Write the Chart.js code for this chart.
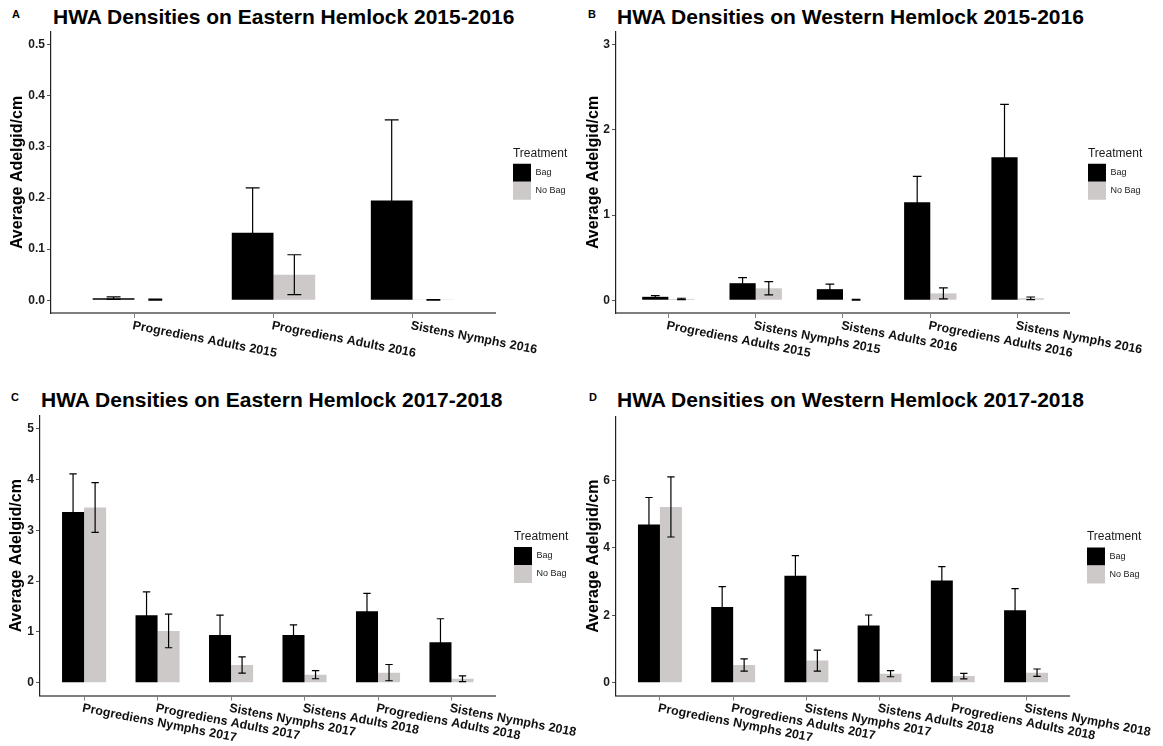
<!DOCTYPE html>
<html><head><meta charset="utf-8">
<script src="https://cdn.jsdelivr.net/npm/chart.js@4.4.1/dist/chart.umd.min.js"></script>
<style>
html,body{margin:0;padding:0;background:#fff;width:1163px;height:746px;overflow:hidden;font-family:"Liberation Sans",Arial,sans-serif;}
canvas{position:absolute;}
.ttl{position:absolute;font-weight:bold;font-size:21px;line-height:1;white-space:nowrap;color:#000;}
.lt{position:absolute;font-weight:bold;font-size:11px;line-height:1;color:#000;}
</style></head><body>
<div class="lt" style="left:12px;top:9px">A</div>
<div class="ttl" style="left:53px;top:6px">HWA Densities on Eastern Hemlock 2015-2016</div>
<div class="lt" style="left:588px;top:8.5px">B</div>
<div class="ttl" style="left:617px;top:6px">HWA Densities on Western Hemlock 2015-2016</div>
<div class="lt" style="left:11px;top:392px">C</div>
<div class="ttl" style="left:41px;top:389px">HWA Densities on Eastern Hemlock 2017-2018</div>
<div class="lt" style="left:589px;top:392px">D</div>
<div class="ttl" style="left:617px;top:389px">HWA Densities on Western Hemlock 2017-2018</div>
<canvas id="cA" width="580" height="373" style="left:0;top:0"></canvas>
<canvas id="cB" width="583" height="373" style="left:580px;top:0"></canvas>
<canvas id="cC" width="580" height="373" style="left:0;top:373px"></canvas>
<canvas id="cD" width="583" height="373" style="left:580px;top:373px"></canvas>
<script>
// ---------- DATA ----------
const seriesNames = ['Bag', 'No Bag'];
const yAxisTitle = 'Average Adelgid/cm';

// Panel A: Eastern Hemlock 2015-2016
const catsA = ['Progrediens Adults 2015', 'Progrediens Adults 2016', 'Sistens Nymphs 2016'];
const bagA = [0.004, 0.132, 0.195];
const bagSeA = [0.0025, 0.088, 0.158];
const noBagA = [0.001, 0.050, 0.0005];
const noBagSeA = [0.001, 0.039, 0.0005];

// Panel B: Western Hemlock 2015-2016
const catsB = ['Progrediens Adults 2015', 'Sistens Nymphs 2015', 'Sistens Adults 2016', 'Progrediens Adults 2016', 'Sistens Nymphs 2016'];
const bagB = [0.04, 0.20, 0.13, 1.15, 1.68];
const bagSeB = [0.015, 0.066, 0.058, 0.305, 0.62];
const noBagB = [0.015, 0.14, 0.005, 0.08, 0.023];
const noBagSeB = [0.008, 0.078, 0.005, 0.064, 0.015];

// Panel C: Eastern Hemlock 2017-2018
const catsC = ['Progrediens Nymphs 2017', 'Progrediens Adults 2017', 'Sistens Nymphs 2017', 'Sistens Adults 2018', 'Progrediens Adults 2018', 'Sistens Nymphs 2018'];
const bagC = [3.36, 1.33, 0.94, 0.94, 1.41, 0.80];
const bagSeC = [0.75, 0.46, 0.39, 0.20, 0.35, 0.46];
const noBagC = [3.45, 1.02, 0.35, 0.16, 0.20, 0.08];
const noBagSeC = [0.49, 0.33, 0.16, 0.08, 0.16, 0.055];

// Panel D: Western Hemlock 2017-2018
const catsD = ['Progrediens Nymphs 2017', 'Progrediens Adults 2017', 'Sistens Nymphs 2017', 'Sistens Adults 2018', 'Progrediens Adults 2018', 'Sistens Nymphs 2018'];
const bagD = [4.69, 2.25, 3.17, 1.70, 3.03, 2.15];
const bagSeD = [0.80, 0.60, 0.60, 0.31, 0.41, 0.64];
const noBagD = [5.21, 0.53, 0.66, 0.27, 0.20, 0.30];
const noBagSeD = [0.89, 0.18, 0.31, 0.09, 0.08, 0.11];

// y-axis limits and tick steps
const yRangeA = [-0.025, 0.525], yStepA = 0.1;
const yRangeB = [-0.15, 3.15], yStepB = 1;
const yRangeC = [-0.25, 5.25], yStepC = 1;
const yRangeD = [-0.375, 7.875], yStepD = 2;

// ---------- STYLE ----------
Chart.defaults.font.family = '"Liberation Sans", Arial, sans-serif';
const BAG_COLOR = '#000000';
const NOBAG_COLOR = '#cdc9c9';

const errorBarPlugin = {
  id: 'errorBars',
  afterDatasetsDraw(chart, args, opts) {
    const {ctx} = chart;
    const x = chart.scales.x, y = chart.scales.y;
    const unit = Math.abs(x.getPixelForValue(1) - x.getPixelForValue(0));
    const half = unit * opts.cap / 2;
    ctx.save();
    ctx.strokeStyle = '#000';
    ctx.lineWidth = 1.2;
    chart.data.datasets.forEach((ds, di) => {
      const meta = chart.getDatasetMeta(di);
      meta.data.forEach((bar, i) => {
        const v = ds.data[i].y, e = ds.errors[i];
        const yT = y.getPixelForValue(v + e), yB = y.getPixelForValue(v - e);
        ctx.beginPath();
        ctx.moveTo(bar.x, yT); ctx.lineTo(bar.x, yB);
        ctx.moveTo(bar.x - half, yT); ctx.lineTo(bar.x + half, yT);
        ctx.moveTo(bar.x - half, yB); ctx.lineTo(bar.x + half, yB);
        ctx.stroke();
      });
    });
    ctx.restore();
  }
};

const slantLabelPlugin = {
  id: 'slantLabels',
  afterDraw(chart, args, opts) {
    const {ctx, chartArea} = chart;
    const x = chart.scales.x;
    ctx.save();
    ctx.font = 'bold 12.5px "Liberation Sans", Arial, sans-serif';
    ctx.fillStyle = '#111';
    ctx.textAlign = 'left';
    ctx.textBaseline = 'top';
    chart.data.labels.forEach((lab, i) => {
      ctx.save();
      ctx.translate(x.getPixelForValue(i) - 0.5, chartArea.bottom + opts.offset);
      ctx.rotate(opts.angle * Math.PI / 180);
      ctx.fillText(lab, 0, 0);
      ctx.restore();
    });
    ctx.restore();
  }
};

function buildChart(id, cats, bag, bagSe, noBag, noBagSe, yRange, yStep, fmt, box) {
  return new Chart(document.getElementById(id), {
    type: 'bar',
    data: {
      labels: cats,
      datasets: [
        {label: seriesNames[0], data: bag.map((v, i) => ({x: i, y: v})), errors: bagSe,
         backgroundColor: BAG_COLOR, borderWidth: 0, categoryPercentage: 0.6, barPercentage: 1.0},
        {label: seriesNames[1], data: noBag.map((v, i) => ({x: i, y: v})), errors: noBagSe,
         backgroundColor: NOBAG_COLOR, borderWidth: 0, categoryPercentage: 0.6, barPercentage: 1.0}
      ]
    },
    options: {
      responsive: false, animation: false, events: [],
      layout: {padding: {left: 0, top: box.top, right: box.right, bottom: box.bottom}},
      scales: {
        x: {
          type: 'linear', min: -0.6, max: cats.length - 0.4, offset: false,
          ticks: {stepSize: 1, includeBounds: false, display: false},
          grid: {offset: false, drawOnChartArea: false, drawTicks: true, tickLength: 5, color: '#7f7f7f', lineWidth: 1},
          border: {display: true, color: '#7f7f7f', width: 2},
          afterFit(s) { s.height = 50; }
        },
        y: {
          min: yRange[0], max: yRange[1],
          ticks: {stepSize: yStep, includeBounds: false, callback: fmt,
                  font: {size: 12, weight: 'bold'}, color: '#1a1a1a', padding: 2},
          grid: {drawOnChartArea: false, drawTicks: true, tickLength: 4, color: '#555'},
          border: {display: true, color: '#222', width: 1.2},
          title: {display: true, text: yAxisTitle, font: {size: 16, weight: 'bold'}, color: '#000',
                  padding: {top: box.titlePad, bottom: 0}},
          afterFit(s) { s.width = box.yw; }
        },
        gap: {
          position: 'right', display: true,
          ticks: {display: false}, grid: {display: false}, border: {display: false},
          afterFit(s) { s.width = box.gap; }
        }
      },
      plugins: {
        legend: {
          position: 'right', align: 'center', fullSize: false,
          title: {display: true, text: 'Treatment', position: 'start', color: '#1a1a1a',
                  font: {size: 12}, padding: {top: 2, bottom: 2}},
          labels: {boxWidth: 18, boxHeight: 18, padding: 0, color: '#1a1a1a', font: {size: 9}}
        },
        tooltip: {enabled: false},
        errorBars: {cap: 0.1},
        slantLabels: {angle: 11, offset: 6.5}
      }
    },
    plugins: [errorBarPlugin, slantLabelPlugin]
  });
}

const fmt1 = v => v.toFixed(1);
const fmt0 = v => String(v);

buildChart('cA', catsA, bagA, bagSeA, noBagA, noBagSeA, yRangeA, yStepA, fmt1,
  {yw: 51, top: 32, bottom: 10, right: 4.5, gap: 17, titlePad: 8});
buildChart('cB', catsB, bagB, bagSeB, noBagB, noBagSeB, yRangeB, yStepB, fmt0,
  {yw: 36, top: 32, bottom: 10, right: 12.5, gap: 18, titlePad: 4});
buildChart('cC', catsC, bagC, bagSeC, noBagC, noBagSeC, yRangeC, yStepC, fmt0,
  {yw: 40, top: 43, bottom: 0.5, right: 3.5, gap: 18.4, titlePad: 7});
buildChart('cD', catsD, bagD, bagSeD, noBagD, noBagSeD, yRangeD, yStepD, fmt0,
  {yw: 36, top: 44, bottom: 0.5, right: 13.5, gap: 17, titlePad: 4});
</script>
</body></html>
